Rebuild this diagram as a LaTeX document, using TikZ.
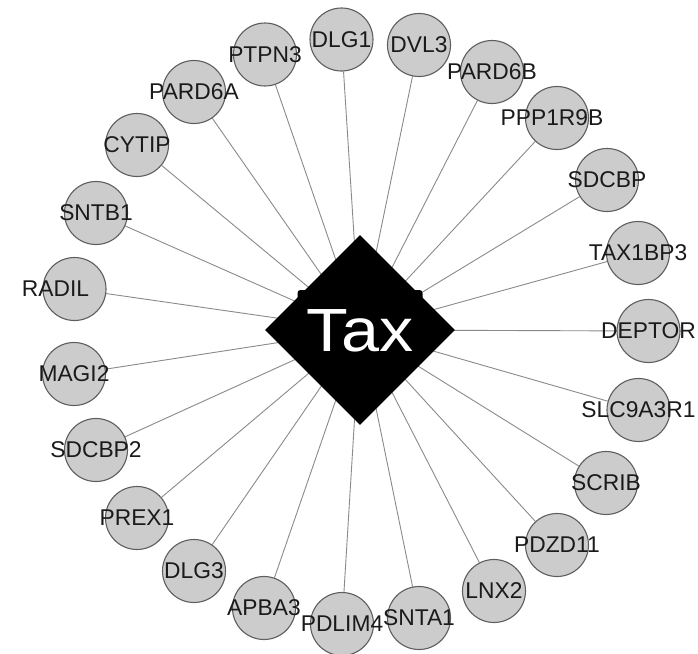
\documentclass[tikz,border=0pt]{standalone}
\usepackage{fontspec}
\setmainfont{Liberation Sans}
\newfontfamily\taxfont[FakeStretch=1.12]{Liberation Sans}
\usetikzlibrary{shapes.geometric,backgrounds}

\definecolor{protfill}{HTML}{CCCCCC}
\definecolor{protline}{HTML}{5E5E5E}
\definecolor{edgegray}{HTML}{8A8A8A}
\definecolor{labeltext}{HTML}{1A1A1A}

\tikzset{
	prot/.style={circle, draw=protline, line width=1.1pt, fill=protfill, minimum size=63, inner sep=0pt,
		label={[text=labeltext, font=\fontsize{22.8}{22.8}\selectfont]center:#1}},
	protoff/.style 2 args={circle, draw=protline, line width=1.1pt, fill=protfill, minimum size=63, inner sep=0pt,
		label={[text=labeltext, font=\fontsize{22.8}{22.8}\selectfont, xshift=#2]center:#1}},
	hub/.style={diamond, fill=black, minimum width=190, minimum height=190, inner sep=0pt},
	hubtext/.style={fill=black, text=white, rounded corners=3pt, minimum width=125, inner sep=0pt,
		text height=61.5pt, text depth=5pt, font=\taxfont\fontsize{61}{61}\selectfont},
	edge/.style={draw=edgegray, line width=0.9pt}
}

\begin{document}
\begin{tikzpicture}[x=1pt, y=-1pt]
		\useasboundingbox (0,0) rectangle (698,653);
		
		\node [hub] (tax) at (360,330) {};
		\node [hubtext, anchor=base] (taxlabel) at (360,351.5) {Tax};
		
		\node [prot=PTPN3] (ptpn3) at (265,54.5) {};
		\node [prot=DLG1] (dlg1) at (341.5,39.5) {};
		\node [prot=DVL3] (dvl3) at (419,45) {};
		\node [prot=PARD6B] (pard6b) at (492,72) {};
		\node [protoff={PPP1R9B}{-5}] (ppp1r9b) at (557,118) {};
		\node [prot=SDCBP] (sdcbp) at (607,180) {};
		\node [prot=TAX1BP3] (tax1bp3) at (638,253) {};
		\node [prot=DEPTOR] (deptor) at (648.5,331) {};
		\node [prot=SLC9A3R1] (slc9a3r1) at (638.5,410) {};
		\node [prot=SCRIB] (scrib) at (606,483) {};
		\node [prot=PDZD11] (pdzd11) at (557,545) {};
		\node [prot=LNX2] (lnx2) at (494,591) {};
		\node [prot=SNTA1] (snta1) at (419,618) {};
		\node [prot=PDLIM4] (pdlim4) at (342,624) {};
		\node [prot=APBA3] (apba3) at (264,608) {};
		\node [prot=DLG3] (dlg3) at (194,571) {};
		\node [prot=PREX1] (prex1) at (137,518) {};
		\node [prot=SDCBP2] (sdcbp2) at (96,450) {};
		\node [prot=MAGI2] (magi2) at (74,374) {};
		\node [protoff={RADIL}{-19}] (radil) at (74.5,289) {};
		\node [prot=SNTB1] (sntb1) at (96,213) {};
		\node [prot=CYTIP] (cytip) at (137,145) {};
		\node [prot=PARD6A] (pard6a) at (194,92) {};
		
		\begin{scope}[on background layer]
		\draw [edge] (tax.center)--(ptpn3);
		\draw [edge] (tax.center)--(dlg1);
		\draw [edge] (tax.center)--(dvl3);
		\draw [edge] (tax.center)--(pard6b);
		\draw [edge] (tax.center)--(ppp1r9b);
		\draw [edge] (tax.center)--(sdcbp);
		\draw [edge] (tax.center)--(tax1bp3);
		\draw [edge] (tax.center)--(deptor);
		\draw [edge] (tax.center)--(slc9a3r1);
		\draw [edge] (tax.center)--(scrib);
		\draw [edge] (tax.center)--(pdzd11);
		\draw [edge] (tax.center)--(lnx2);
		\draw [edge] (tax.center)--(snta1);
		\draw [edge] (tax.center)--(pdlim4);
		\draw [edge] (tax.center)--(apba3);
		\draw [edge] (tax.center)--(dlg3);
		\draw [edge] (tax.center)--(prex1);
		\draw [edge] (tax.center)--(sdcbp2);
		\draw [edge] (tax.center)--(magi2);
		\draw [edge] (tax.center)--(radil);
		\draw [edge] (tax.center)--(sntb1);
		\draw [edge] (tax.center)--(cytip);
		\draw [edge] (tax.center)--(pard6a);
		\end{scope}
	\end{tikzpicture}
\end{document}
